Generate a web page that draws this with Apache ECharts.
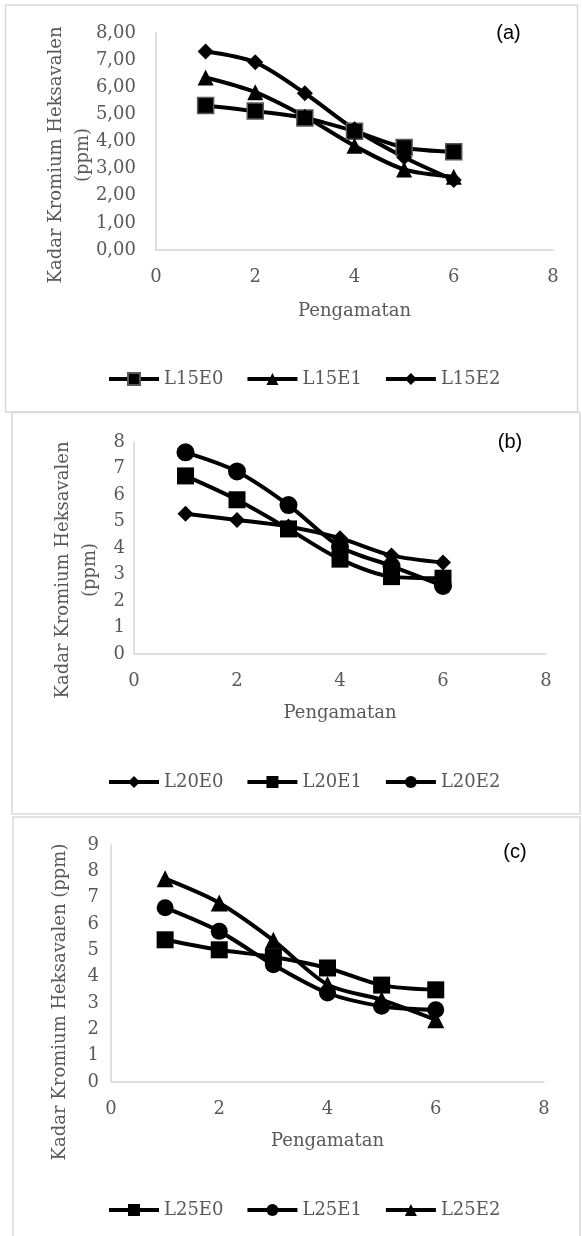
<!DOCTYPE html>
<html>
<head>
<meta charset="utf-8">
<script src="https://cdn.jsdelivr.net/npm/echarts@6/dist/echarts.min.js"></script>
<style>
  html, body { margin: 0; padding: 0; background: #fff; }
  #chart { width: 582px; height: 1236px; }
</style>
</head>
<body>
<div id="chart"></div>
<script>
// data
const pengamatan = [1, 2, 3, 4, 5, 6];
const xTicks = [0, 2, 4, 6, 8];

// (a)
const namesA = ['L15E0', 'L15E1', 'L15E2'];
const l15e0 = [5.33, 5.12, 4.87, 4.38, 3.78, 3.62];
const l15e1 = [6.36, 5.82, 4.92, 3.84, 2.97, 2.70];
const l15e2 = [7.32, 6.92, 5.78, 4.45, 3.42, 2.58];
const yTicksA = ['0,00', '1,00', '2,00', '3,00', '4,00', '5,00', '6,00', '7,00', '8,00'];

// (b)
const namesB = ['L20E0', 'L20E1', 'L20E2'];
const l20e0 = [5.29, 5.06, 4.81, 4.37, 3.72, 3.45];
const l20e1 = [6.72, 5.82, 4.72, 3.58, 2.92, 2.86];
const l20e2 = [7.61, 6.89, 5.62, 4.05, 3.32, 2.57];
const yTicksB = ['0', '1', '2', '3', '4', '5', '6', '7', '8'];

// (c)
const namesC = ['L25E0', 'L25E1', 'L25E2'];
const l25e0 = [5.40, 5.02, 4.75, 4.33, 3.68, 3.50];
const l25e1 = [6.62, 5.72, 4.45, 3.38, 2.88, 2.74];
const l25e2 = [7.72, 6.80, 5.38, 3.70, 3.12, 2.36];
const yTicksC = ['0', '1', '2', '3', '4', '5', '6', '7', '8', '9'];

const grey = '#595959';
const serif = 'DejaVu Serif';

const chart = echarts.init(document.getElementById('chart'));

const pts = vals => pengamatan.map((x, i) => [x, vals[i]]);

const makeX = (gridIndex, gap) => ({
  gridIndex,
  type: 'value',
  min: xTicks[0],
  max: xTicks[xTicks.length - 1],
  interval: xTicks[1] - xTicks[0],
  name: 'Pengamatan',
  nameLocation: 'middle',
  nameGap: gap,
  nameTextStyle: { fontFamily: serif, fontSize: 18, color: grey },
  axisLine: { show: true, onZero: false, lineStyle: { color: '#d6d6d6', width: 1.5 } },
  axisTick: { show: false },
  splitLine: { show: false },
  axisLabel: { margin: 18, fontFamily: serif, fontSize: 18, color: grey }
})

const makeY = (gridIndex, labels, margin) => ({
  gridIndex,
  type: 'value',
  min: 0,
  max: labels.length - 1,
  interval: 1,
  axisLine: { show: true, lineStyle: { color: '#d6d6d6', width: 1.5 } },
  axisTick: { show: false },
  splitLine: { show: false },
  axisLabel: {
    margin,
    fontFamily: serif,
    fontSize: 18,
    color: grey,
    formatter: v => labels[Math.round(v)]
  }
})

const line = (name, vals, idx, symbol, size, extra) => ({
  name,
  type: 'line',
  xAxisIndex: idx,
  yAxisIndex: idx,
  data: pts(vals),
  smooth: 0.3,
  symbol,
  symbolSize: size,
  showSymbol: true,
  lineStyle: { color: '#000', width: 4 },
  itemStyle: Object.assign({ color: '#000' }, extra || {}),
  emphasis: { disabled: true }
})

const makeLegend = (names, top) => ({
  data: names,
  left: 102,
  top,
  itemWidth: 50,
  itemHeight: 15,
  itemGap: 22,
  lineStyle: { width: 4, color: '#000' },
  textStyle: { fontFamily: serif, fontSize: 18, color: grey }
})

const yTitle = (x, y, text) => ({
  type: 'text',
  x,
  y,
  rotation: Math.PI / 2,
  style: {
    text,
    align: 'center',
    verticalAlign: 'middle',
    font: '18px "DejaVu Serif"',
    lineHeight: 27,
    fill: grey
  }
})

const tag = (x, y, text) => ({
  type: 'text',
  x,
  y,
  style: {
    text,
    align: 'center',
    verticalAlign: 'middle',
    font: '20px "Liberation Sans"',
    fill: '#000'
  }
})

const box = (x, y, w, h) => ({
  type: 'rect',
  shape: { x, y, width: w, height: h },
  style: { fill: 'none', stroke: '#d9d9d9', lineWidth: 1.5 },
  silent: true
})

const option = {
  backgroundColor: '#fff',
  animation: false,
  grid: [
    { left: 156, top: 33, width: 397, height: 217 },
    { left: 134, top: 442, width: 412, height: 212 },
    { left: 111, top: 845, width: 433, height: 237 }
  ],
  xAxis: [makeX(0, 52), makeX(1, 50), makeX(2, 50)],
  yAxis: [makeY(0, yTicksA, 20), makeY(1, yTicksB, 9), makeY(2, yTicksC, 12)],
  legend: [makeLegend(namesA, 365), makeLegend(namesB, 768), makeLegend(namesC, 1196)],
  series: [
    line(namesA[0], l15e0, 0, 'rect', 16, { borderColor: grey, borderWidth: 1.5 }),
    line(namesA[1], l15e1, 0, 'triangle', 16),
    line(namesA[2], l15e2, 0, 'diamond', 16),
    line(namesB[0], l20e0, 1, 'diamond', 16),
    line(namesB[1], l20e1, 1, 'rect', 17),
    line(namesB[2], l20e2, 1, 'circle', 18),
    line(namesC[0], l25e0, 2, 'rect', 17),
    line(namesC[1], l25e1, 2, 'circle', 17),
    line(namesC[2], l25e2, 2, 'triangle', 17)
  ],
  graphic: [
    box(5.5, 5, 572, 407),
    box(12, 412.5, 568, 401.5),
    box(13, 817, 567, 430),
    tag(508.5, 33, '(a)'),
    tag(510, 442, '(b)'),
    tag(515, 852, '(c)'),
    yTitle(70, 155, 'Kadar Kromium Heksavalen\n(ppm)'),
    yTitle(77, 570, 'Kadar Kromium Heksavalen\n(ppm)'),
    yTitle(60, 1002, 'Kadar Kromium Heksavalen (ppm)')
  ]
}

chart.setOption(option)
</script>
</body>
</html>
